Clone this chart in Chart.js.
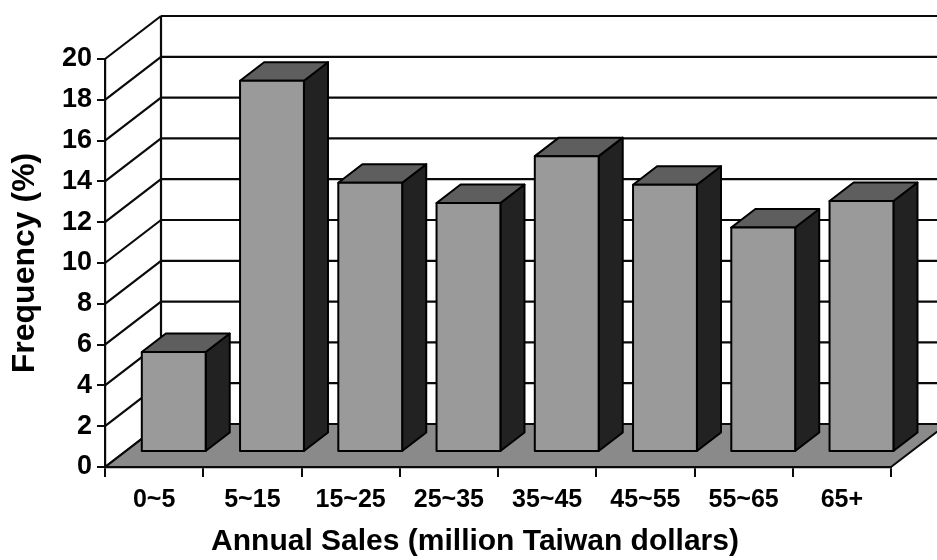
<!DOCTYPE html>
<html>
<head>
<meta charset="utf-8">
<script src="https://cdn.jsdelivr.net/npm/chart.js@4/dist/chart.umd.min.js"></script>
<style>
  html, body { margin: 0; padding: 0; background: #ffffff; }
  canvas { display: block; }
</style>
</head>
<body>
<canvas id="chart" width="937" height="560"></canvas>
<script>
// Sales-size classes and the share of firms in each class
const categories = ['0~5', '5~15', '15~25', '25~35', '35~45', '45~55', '55~65', '65+'];
const frequency = [4.9, 18.2, 13.2, 12.2, 14.5, 13.1, 11.0, 12.3];

// Value axis range and step of the tick labels
const yMin = 0;
const yMax = 20;
const yStep = 2;

const FONT = '"Liberation Sans", Arial, sans-serif';

// Oblique projection of the chart's depth: full floor depth, and where the
// bar boxes sit inside it (front face position and box depth, as fractions)
const DEPTH = { dx: 56, dy: -43 };
const BAR_FRONT = 0.35;
const BAR_DEPTH = 0.43;

// Left margin reserved outside the value axis box
const LEFT_PAD = 59;

const COLORS = {
  line: '#0a0a0a',
  floor: '#8a8a8a',
  front: '#9a9a9a',
  top: '#5e5e5e',
  side: '#222222'
};

function poly(ctx, pts, fill, stroke, lw) {
  ctx.beginPath();
  ctx.moveTo(pts[0][0], pts[0][1]);
  for (let i = 1; i < pts.length; i++) ctx.lineTo(pts[i][0], pts[i][1]);
  ctx.closePath();
  if (fill) { ctx.fillStyle = fill; ctx.fill(); }
  if (stroke) { ctx.strokeStyle = stroke; ctx.lineWidth = lw; ctx.lineJoin = 'round'; ctx.stroke(); }
}

function line(ctx, x1, y1, x2, y2, lw) {
  ctx.beginPath();
  ctx.moveTo(x1, y1);
  ctx.lineTo(x2, y2);
  ctx.strokeStyle = COLORS.line;
  ctx.lineWidth = lw;
  ctx.stroke();
}

// Walls, floor and gridlines of the 3-D frame, built on the chart's scales
const frame3d = {
  id: 'frame3d',
  beforeDraw(chart) {
    const ctx = chart.ctx;
    const xs = chart.scales.x;
    const ys = chart.scales.y;
    const { dx, dy } = DEPTH;
    const left = xs.left, right = xs.right;
    const base = ys.getPixelForValue(yMin);
    const top = ys.getPixelForValue(yMax);
    ctx.save();

    // floor
    poly(ctx, [[left, base], [right, base], [right + dx, base + dy], [left + dx, base + dy]],
      COLORS.floor, COLORS.line, 2);

    // gridlines on the back wall and the side wall
    for (let v = yMin; v <= yMax; v += yStep) {
      const p = ys.getPixelForValue(v);
      line(ctx, left + dx, p + dy, right + dx + 4, p + dy, 2.2);
      line(ctx, left, p, left + dx, p + dy, 2.2);
    }
    // corner where the two walls meet
    line(ctx, left + dx, top + dy, left + dx, base + dy, 2.2);
    ctx.restore();
  },
  afterDatasetsDraw(chart) {
    const ctx = chart.ctx;
    const meta = chart.getDatasetMeta(0);
    const fx = DEPTH.dx * BAR_FRONT, fy = DEPTH.dy * BAR_FRONT;
    const bx = DEPTH.dx * BAR_DEPTH, by = DEPTH.dy * BAR_DEPTH;
    ctx.save();
    meta.data.forEach((bar) => {
      const { x, y, base, width } = bar.getProps(['x', 'y', 'base', 'width'], true);
      const x0 = x - width / 2 + fx, x1 = x + width / 2 + fx;
      const yt = y + fy, yb = base + fy;
      // side face
      poly(ctx, [[x1, yt], [x1 + bx, yt + by], [x1 + bx, yb + by], [x1, yb]], COLORS.side, '#000', 2);
      // top face
      poly(ctx, [[x0, yt], [x1, yt], [x1 + bx, yt + by], [x0 + bx, yt + by]], COLORS.top, '#000', 2);
      // front face
      poly(ctx, [[x0, yt], [x1, yt], [x1, yb], [x0, yb]], COLORS.front, '#000', 2);
    });
    ctx.restore();
  }
};

new Chart(document.getElementById('chart'), {
  type: 'bar',
  data: {
    labels: categories,
    datasets: [{
      label: 'Frequency (%)',
      data: frequency,
      backgroundColor: 'rgba(0,0,0,0)',
      borderWidth: 0,
      categoryPercentage: 1.0,
      barPercentage: 0.65
    }]
  },
  plugins: [frame3d],
  options: {
    responsive: false,
    animation: false,
    events: [],
    devicePixelRatio: 1,
    layout: { padding: { top: 59, right: 46, left: LEFT_PAD, bottom: 0 } },
    plugins: {
      legend: { display: false },
      tooltip: { enabled: false },
      title: {
        display: true,
        position: 'bottom',
        text: 'Annual Sales (million Taiwan dollars)',
        color: '#000',
        font: { family: FONT, size: 30, weight: 'bold', lineHeight: 1.2 },
        padding: { top: 0, bottom: 0 }
      }
    },
    scales: {
      x: {
        grid: {
          offset: true,
          drawOnChartArea: false,
          drawTicks: true,
          tickLength: 10,
          color: '#0a0a0a',
          lineWidth: 2
        },
        border: { display: true, color: '#0a0a0a', width: 2.2 },
        ticks: {
          color: '#000',
          padding: 8,
          maxRotation: 0,
          font: { family: FONT, size: 25, weight: 'bold' }
        },
        afterFit(s) { s.height = 57; }
      },
      y: {
        min: yMin,
        max: yMax,
        ticks: {
          stepSize: yStep,
          color: '#000',
          padding: 5,
          font: { family: FONT, size: 27, weight: 'bold' }
        },
        grid: {
          drawOnChartArea: false,
          drawTicks: true,
          tickLength: 8,
          color: '#0a0a0a',
          lineWidth: 2
        },
        border: { display: true, color: '#0a0a0a', width: 2.2 },
        title: {
          display: true,
          text: 'Frequency (%)',
          color: '#000',
          font: { family: FONT, size: 32, weight: 'bold', lineHeight: 1.2 },
          // the axis box starts at LEFT_PAD; pull the title back to the canvas edge
          padding: { top: 6 - LEFT_PAD, bottom: 0 }
        },
        afterFit(s) { s.width = 105 - LEFT_PAD; }
      }
    }
  }
});
</script>
</body>
</html>
